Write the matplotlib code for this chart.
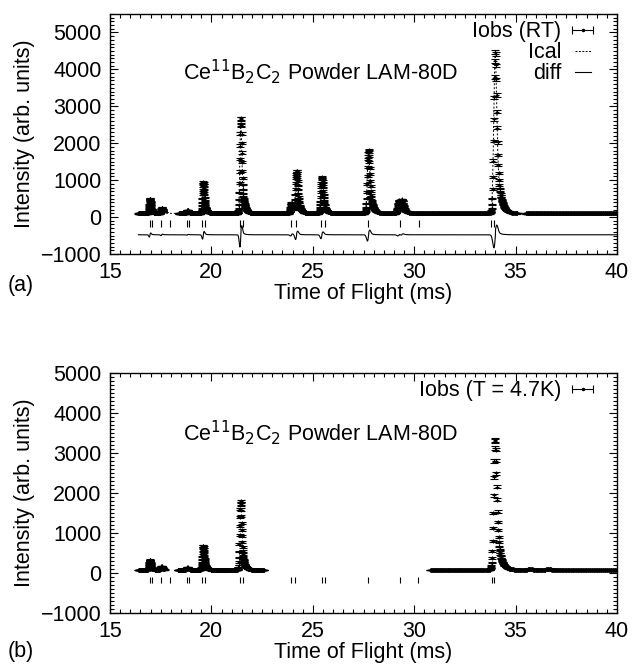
import numpy as np
import matplotlib
matplotlib.use("Agg")
import matplotlib.pyplot as plt
from matplotlib.ticker import MultipleLocator

plt.rcParams['font.family'] = ['Liberation Sans', 'DejaVu Sans']
plt.rcParams['font.size'] = 15.5

# reflection positions (ms) for the tick row
bragg_a = [16.95, 17.07, 17.52, 17.98, 18.78, 18.9, 19.55, 19.67, 21.43, 21.57,
           23.92, 24.15, 25.4, 25.6, 27.72, 29.31, 30.22, 33.8, 33.95]
bragg_b = [16.95, 17.07, 17.52, 17.98, 18.78, 18.9, 19.55, 19.67, 21.43, 21.57,
           23.92, 24.1, 25.45, 25.6, 27.7, 29.3, 30.2, 33.82, 33.95]

# observed peaks (position ms, height above background)
peak_pos_a = [16.97, 17.55, 18.82, 19.6, 21.45, 23.95, 24.2, 25.45, 27.75, 29.25, 29.4, 34.0]
peak_h_a = [400, 150, 90, 850, 2600, 290, 1150, 980, 1720, 330, 300, 4400]
bg_a = 100
segments_a = [(16.4, 17.65), (18.4, 35.1), (35.5, 40.0)]

peak_pos_b = [16.97, 17.55, 18.82, 19.6, 21.45, 34.0, 35.7, 36.6]
peak_h_b = [250, 90, 60, 610, 1720, 3280, 25, 25]
bg_b = 80
segments_b = [(16.4, 17.7), (18.35, 22.6), (30.8, 40.0)]

xrange_a = (16.4, 40.0)


def profile(t, pos, hts, bg, shift=0.0):
  y = np.full_like(t, bg, dtype=float)
  for p, h in zip(pos, hts):
    p = p + shift
    s = 0.0022 * p
    tau = 0.005 * p
    dx = t - p
    g = np.exp(-dx ** 2 / (2 * s ** 2))
    tail = np.where(dx >= 0, 0.5 * g + 0.5 * np.exp(-np.clip(dx, 0, None) / tau), g)
    y += h * tail
  return y


def tof_grid(lo, hi):
  n = int(np.log(hi / lo) / 0.0005)
  return lo * np.exp(np.arange(n + 1) * 0.0005)


def style_axes(ax, ytop):
  ax.set_xlim(15, 40)
  ax.set_ylim(-1000, ytop)
  ax.set_yticks(range(-1000, 5001, 1000))
  ax.xaxis.set_minor_locator(MultipleLocator(0.5))
  ax.yaxis.set_minor_locator(MultipleLocator(100))
  ax.tick_params(which='both', direction='in', top=True, right=True, width=0.8)
  ax.tick_params(which='major', length=6, pad=6)
  ax.tick_params(which='minor', length=3)
  for sp in ax.spines.values():
    sp.set_linewidth(1.0)
  ax.set_xlabel("Time of Flight (ms)", labelpad=0)
  ax.set_ylabel("Intensity (arb. units)", labelpad=4)


fig = plt.figure(figsize=(6.34, 6.68), dpi=100)
ax1 = fig.add_axes([0.1735, 0.6198, 0.7997, 0.3593])
ax2 = fig.add_axes([0.1735, 0.0823, 0.7997, 0.3593])

eb_kw = dict(fmt='+', color='black', ms=3, mew=0.8, elinewidth=0.8,
             capsize=3, capthick=0.8)
leg_kw = dict(frameon=False, markerfirst=False, handlelength=0.75, labelspacing=0.0,
              handletextpad=0.6, loc='upper right', bbox_to_anchor=(0.965, 1.005),
              borderaxespad=0.0, fontsize=15.5)

# ---- panel (a)
t_full = tof_grid(*xrange_a)
ical = profile(t_full, peak_pos_a, peak_h_a, bg_a)
iobs_full = profile(t_full, peak_pos_a, peak_h_a, bg_a, shift=0.01)
diff = iobs_full - ical - 480
for lo, hi in segments_a:
  t = tof_grid(lo, hi)
  iobs = profile(t, peak_pos_a, peak_h_a, bg_a, shift=0.01)
  ax1.errorbar(t, iobs, yerr=0.8 * np.sqrt(iobs), zorder=2, **eb_kw)
ax1.plot(t_full, ical, color='black', lw=0.7, ls=(0, (2, 2)), zorder=3)
ax1.plot(t_full, diff, color='black', lw=0.8, zorder=3)
ax1.vlines(bragg_a, -280, -80, color='black', lw=0.8)

h_obs = ax1.errorbar([-10], [0], xerr=[1], fmt='.', color='black', ms=3,
                     elinewidth=0.8, capsize=3, capthick=0.8)
h_cal, = ax1.plot([], [], color='black', lw=0.7, ls=(0, (2, 1.5)))
h_dif, = ax1.plot([], [], color='black', lw=0.8)
ax1.legend([h_obs, h_cal, h_dif], ["Iobs (RT)", "Ical", "diff"], **leg_kw)
ax1.text(18.6, 3950, r"Ce$^{11}$B$_2$C$_2$ Powder LAM-80D", va='center')
style_axes(ax1, 5500)

# ---- panel (b)
for lo, hi in segments_b:
  t = tof_grid(lo, hi)
  iobs = profile(t, peak_pos_b, peak_h_b, bg_b)
  ax2.errorbar(t, iobs, yerr=0.8 * np.sqrt(iobs), zorder=2, **eb_kw)
ax2.vlines(bragg_b, -250, -100, color='black', lw=0.8)
h_obs2 = ax2.errorbar([-10], [0], xerr=[1], fmt='.', color='black', ms=3,
                      elinewidth=0.8, capsize=3, capthick=0.8)
ax2.legend([h_obs2], ["Iobs (T = 4.7K)"], **leg_kw)
ax2.text(18.6, 3500, r"Ce$^{11}$B$_2$C$_2$ Powder LAM-80D", va='center')
style_axes(ax2, 5000)

fig.text(0.012, 1 - 285 / 668, "(a)", va='center')
fig.text(0.012, 1 - 652 / 668, "(b)", va='center')

fig.savefig("out.png", dpi=100)
